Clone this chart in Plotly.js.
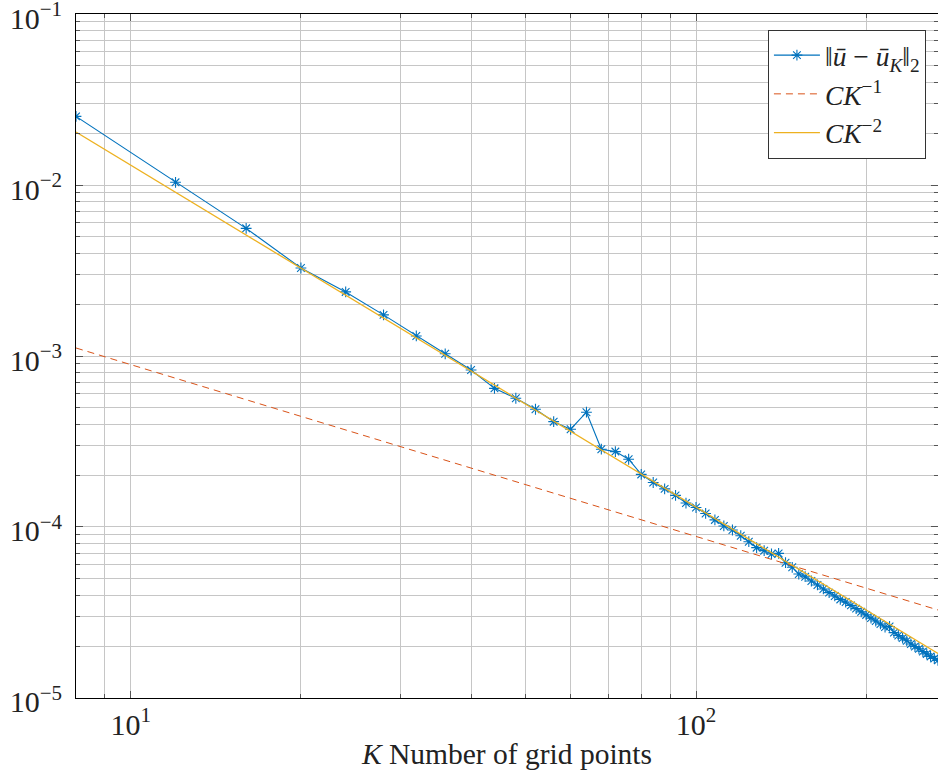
<!DOCTYPE html>
<html>
<head>
<meta charset="utf-8">
<script src="https://cdn.plot.ly/plotly-3.0.1.min.js"></script>
<style>html,body{margin:0;padding:0;background:#fff;}#chart{width:938px;height:776px;}</style>
</head>
<body>
<div id="chart"></div>
<script>
// Grid sizes K
const K = [8,12,16,20,24,28,32,36,40,44,48,52,56,60,64,68,72,76,80,84,88,92,96,100,
  104,108,112,116,120,124,128,132,136,140,144,148,152,156,160,164,168,172,176,180,184,188,192,
  196,200,204,208,212,216,220,224,228,232,236,240,244,248,252,256,260,264,268];
// ||u - u_K||_2
const errNorm = [0.0252,0.01037,0.00558,0.00327,0.00237,0.00174,0.00131,0.00103,0.000828,0.000647,
  0.000566,0.000488,0.000413,0.000373,0.000469,0.000285,0.000276,0.000249,0.000203,0.000182,
  0.000167,0.000153,0.000138,0.000130,0.000120,0.000110,0.0001014,9.6e-5,8.89e-5,8.2e-5,
  7.57e-5,7.27e-5,6.95e-5,7.01e-5,6.18e-5,5.81e-5,5.31e-5,5.12e-5,4.83e-5,4.58e-5,
  4.34e-5,4.13e-5,3.95e-5,3.77e-5,3.64e-5,3.48e-5,3.33e-5,
  3.19e-5,3.06e-5,2.93e-5,2.82e-5,2.71e-5,2.60e-5,2.62e-5,2.41e-5,2.32e-5,2.24e-5,2.16e-5,
  2.07e-5,2.00e-5,1.94e-5,1.87e-5,1.81e-5,1.75e-5,1.70e-5,1.66e-5];
// Reference lines (end points)
const refK = [8, 268];
const refOrder1 = [1.114e-3, 3.27e-5];
const refOrder2 = [2.04e-2, 1.82e-5];

const xTickVals = [10, 100];
const xTickText = ['10<sup>1</sup>', '10<sup>2</sup>'];
const xMinorVals = [9, 20, 30, 40, 50, 60, 70, 80, 90, 200];
const yTickVals = [1e-5, 1e-4, 1e-3, 1e-2, 1e-1];
const yTickText = ['10<sup>−5</sup>', '10<sup>−4</sup>', '10<sup>−3</sup>', '10<sup>−2</sup>', '10<sup>−1</sup>'];
const yMinorVals = [];
[1e-5, 1e-4, 1e-3, 1e-2].forEach(d => { for (let m = 2; m <= 9; m++) yMinorVals.push(+(d * m).toPrecision(3)); });

const fontFam = 'Liberation Serif, DejaVu Serif, serif';
const gridCol = '#c6c6c6';

const traces = [
  {x: K, y: errNorm, type: 'scatter', mode: 'lines+markers',
   name: '‖<i>ū</i> − <i>ū</i><sub><i>K</i></sub>‖<sub>2</sub>',
   line: {color: '#0072BD', width: 1.1},
   marker: {symbol: 'asterisk-open', size: 9, color: '#0072BD', line: {color: '#0072BD', width: 1.1}}},
  {x: refK, y: refOrder1, type: 'scatter', mode: 'lines', name: '<i>CK</i><sup>−1</sup>',
   line: {color: '#D95319', width: 1, dash: '7px,5px'}},
  {x: refK, y: refOrder2, type: 'scatter', mode: 'lines', name: '<i>CK</i><sup>−2</sup>',
   line: {color: '#EDB120', width: 1.3}}
];

const axisCommon = {
  type: 'log', showline: true, linecolor: '#000', linewidth: 1, mirror: 'allticks',
  ticks: 'inside', ticklen: 7, tickcolor: '#555', tickwidth: 1,
  showgrid: true, gridcolor: gridCol, gridwidth: 1, zeroline: false,
  ticklabeloverflow: 'allow',
  tickfont: {family: fontFam, size: 30, color: '#222'}
};

const layout = {
  width: 938, height: 776,
  margin: {l: 76, r: 0, t: 14, b: 78},
  paper_bgcolor: '#fff', plot_bgcolor: '#fff',
  showlegend: true,
  hovermode: false,
  font: {family: fontFam, size: 28, color: '#222'},
  xaxis: Object.assign({}, axisCommon, {
    range: [Math.log10(8), Math.log10(268)],
    tickmode: 'array', tickvals: xTickVals, ticktext: xTickText,
    ticklabelstandoff: 0,
    minor: {tickmode: 'array', tickvals: xMinorVals, ticks: 'inside', ticklen: 4, tickcolor: '#555', showgrid: true, gridcolor: gridCol, gridwidth: 1},
    title: {text: '<i>K</i> Number of grid points', font: {family: fontFam, size: 29.5, color: '#222'}, standoff: 3}
  }),
  yaxis: Object.assign({}, axisCommon, {
    range: [-5.0002, -0.9998],
    tickmode: 'array', tickvals: yTickVals, ticktext: yTickText,
    ticklabelstandoff: 7,
    ticklabelshift: 4,
    minor: {tickmode: 'array', tickvals: yMinorVals, ticks: 'inside', ticklen: 4, tickcolor: '#555', showgrid: true, gridcolor: gridCol, gridwidth: 1}
  }),
  legend: {
    x: 0.986, xanchor: 'right', y: 0.977, yanchor: 'top',
    bgcolor: '#fff', bordercolor: '#333', borderwidth: 1,
    font: {family: fontFam, size: 27.5, color: '#222'},
    itemwidth: 46,
    tracegroupgap: 0
  }
};

Plotly.newPlot('chart', traces, layout, {staticPlot: true, displayModeBar: false});
</script>
</body>
</html>
